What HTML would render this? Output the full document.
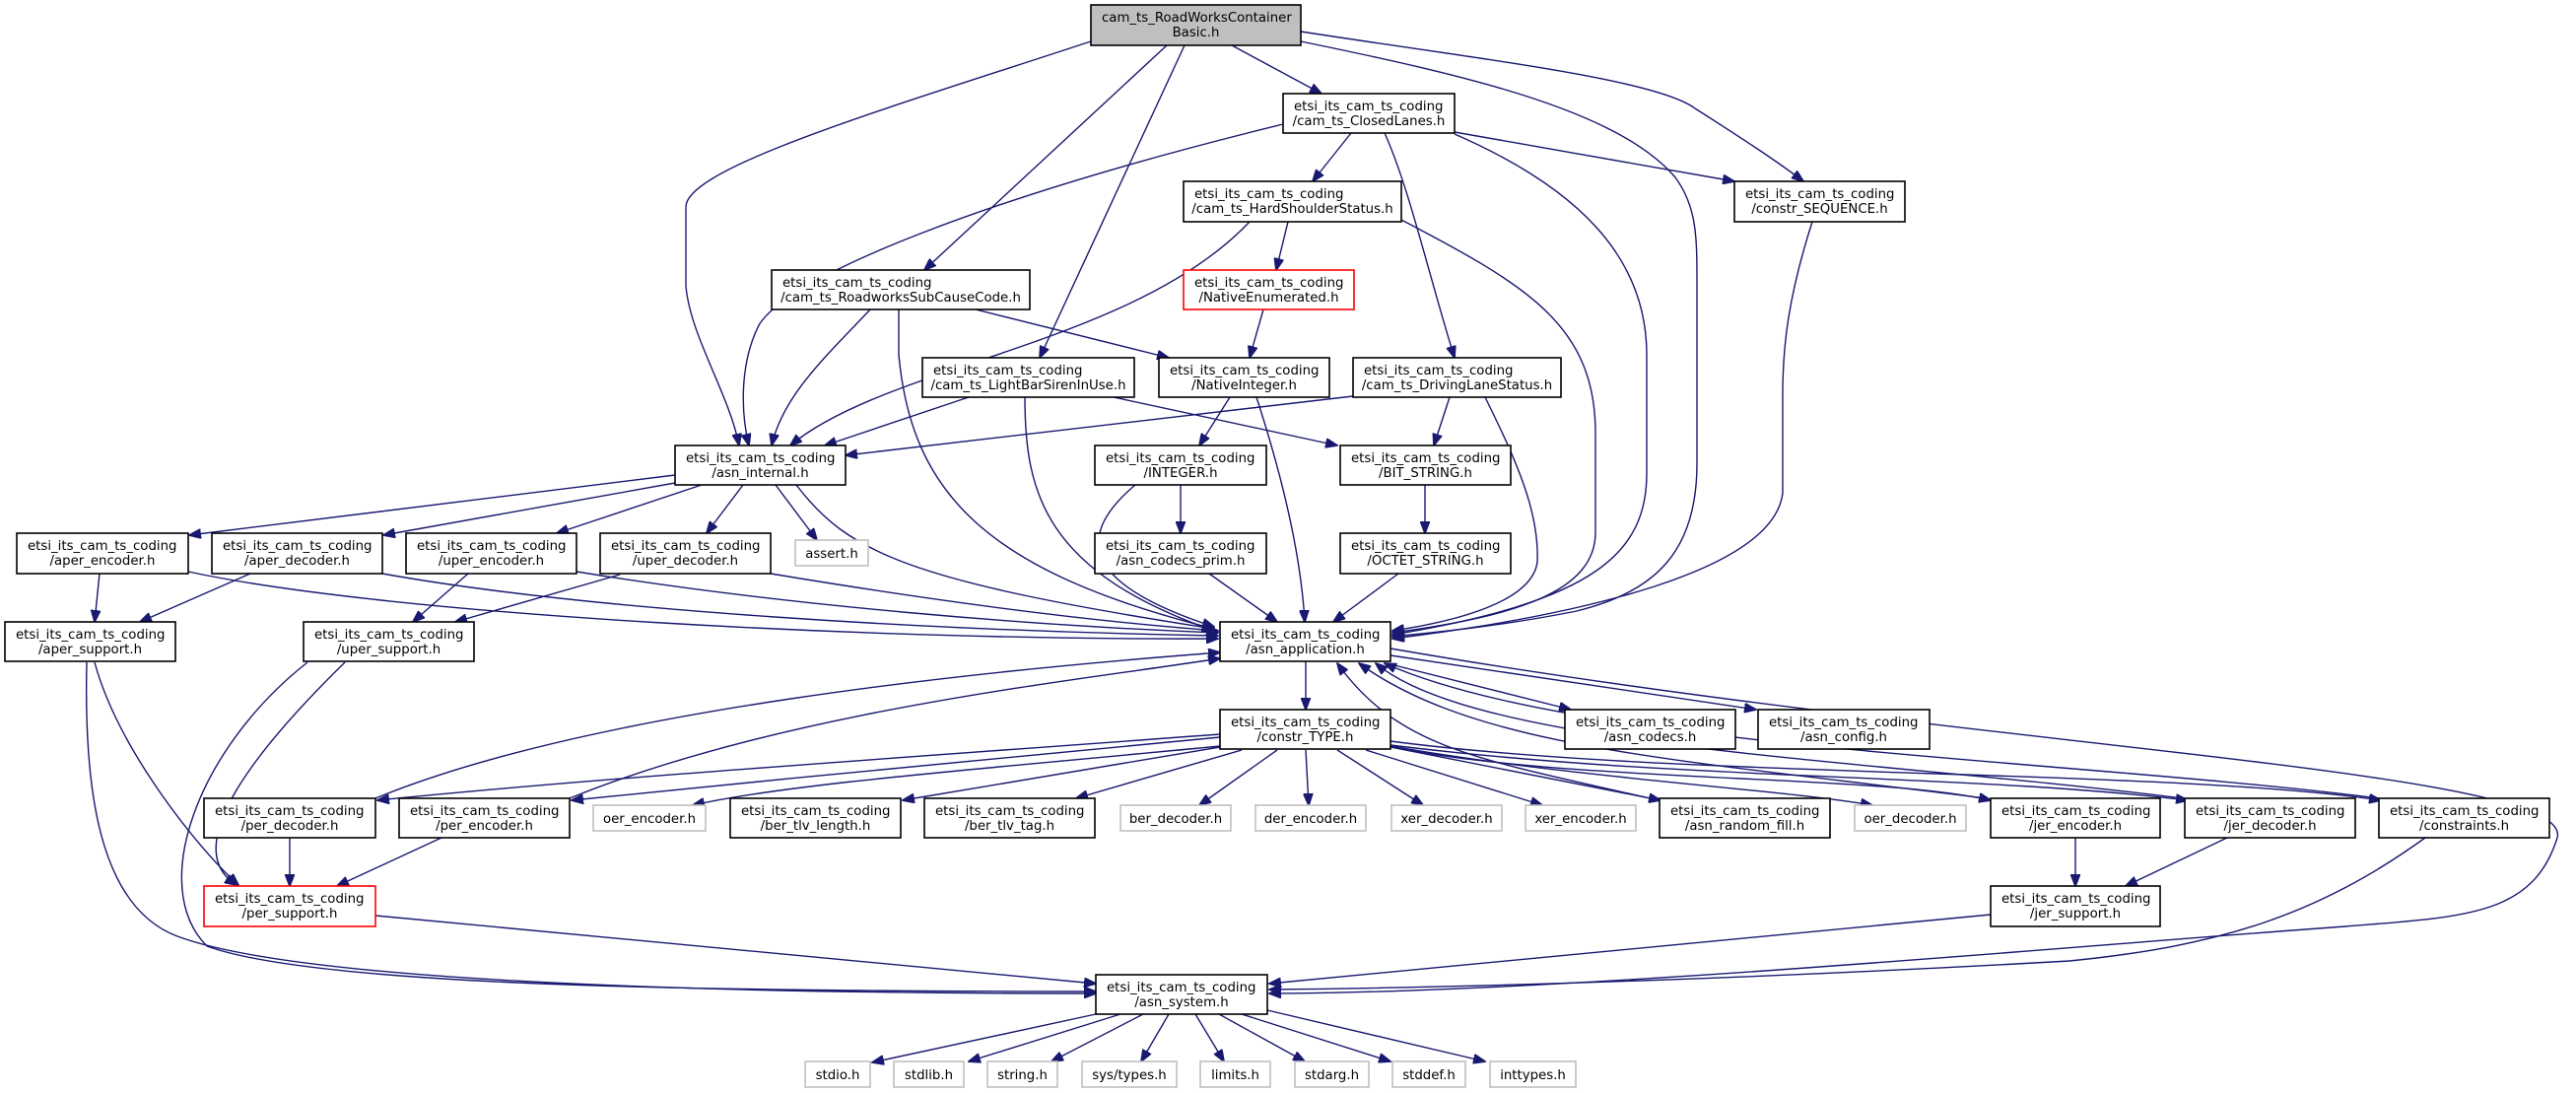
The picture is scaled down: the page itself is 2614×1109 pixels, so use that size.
<!DOCTYPE html>
<html><head><meta charset="utf-8"><style>
html,body{margin:0;padding:0;background:#fff;}
svg{display:block;}
text{font-family:"DejaVu Sans","Liberation Sans",sans-serif;font-size:13.3px;fill:#000;}
.n rect{fill:#fff;stroke:#000;stroke-width:1.6;}
.g rect{fill:#fff;stroke:#bfbfbf;stroke-width:1.6;}
.r rect{fill:#fff;stroke:#ff0000;stroke-width:1.6;}
.e path{fill:none;stroke:#191970;stroke-width:1.4;}
</style></head><body>
<svg width="2614" height="1109" viewBox="0 0 2614 1109" xmlns="http://www.w3.org/2000/svg">
<defs>
<marker id="a" markerWidth="13" markerHeight="10" refX="12" refY="5" orient="auto" markerUnits="userSpaceOnUse">
<path d="M0,0 L13,5 L0,10 z" fill="#191970" stroke="#191970" stroke-width="1"/>
</marker>
</defs>
<g class="e" marker-end="url(#a)">
<!-- root -->
<path d="M1107,42 C900,110 696,170 696,210 L696,290 C700,340 740,400 750,452" marker-end="url(#a)"/>
<path d="M1184,46 L938,274" marker-end="url(#a)"/>
<path d="M1202,46 L1055,363" marker-end="url(#a)"/>
<path d="M1250,46 L1341,95" marker-end="url(#a)"/>
<path d="M1320,42 C1480,75 1640,110 1700,180 C1722,210 1722,240 1722,290 L1722,470 C1722,560 1680,600 1600,620 C1520,636 1450,642 1413,646" marker-end="url(#a)"/>
<path d="M1320,32 C1500,60 1680,80 1720,110 C1775,145 1805,165 1830,184" marker-end="url(#a)"/>
<!-- ClosedLanes -->
<path d="M1371,135 L1332,184" marker-end="url(#a)"/>
<path d="M1405,135 C1430,190 1450,280 1476,363" marker-end="url(#a)"/>
<path d="M1476,134 L1760,184" marker-end="url(#a)"/>
<path d="M1476,136 C1600,190 1671,260 1671,360 L1671,480 C1671,560 1620,610 1413,644" marker-end="url(#a)"/>
<path d="M1302,126 C1000,200 800,280 770,330 C750,370 752,420 760,452" marker-end="url(#a)"/>
<!-- HardShoulder -->
<path d="M1307,225 L1295,274" marker-end="url(#a)"/>
<path d="M1268,225 C1150,350 900,370 802,452" marker-end="url(#a)"/>
<path d="M1422,223 C1550,290 1619,330 1619,440 L1619,540 C1619,600 1540,625 1413,642" marker-end="url(#a)"/>
<!-- constr_SEQUENCE -->
<path d="M1839,225 C1815,300 1809,350 1809,400 L1809,500 C1800,580 1600,625 1413,648" marker-end="url(#a)"/>
<!-- RWSub -->
<path d="M883,314 C840,360 795,400 783,452" marker-end="url(#a)"/>
<path d="M990,314 L1186,363" marker-end="url(#a)"/>
<path d="M912,314 L912,360 C925,500 1000,580 1232,638" marker-end="url(#a)"/>
<!-- LightBar -->
<path d="M983,403 L837,452" marker-end="url(#a)"/>
<path d="M1130,403 L1357,452" marker-end="url(#a)"/>
<path d="M1040,403 C1040,500 1060,580 1232,640" marker-end="url(#a)"/>
<!-- NativeEnum / NativeInteger / INTEGER -->
<path d="M1282,314 L1268,363" marker-end="url(#a)"/>
<path d="M1248,403 L1217,452" marker-end="url(#a)"/>
<path d="M1275,403 C1300,480 1320,560 1324,631" marker-end="url(#a)"/>
<path d="M1198,492 L1198,541" marker-end="url(#a)"/>
<path d="M1152,492 C1095,540 1090,590 1232,636" marker-end="url(#a)"/>
<path d="M1227,582 L1296,631" marker-end="url(#a)"/>
<!-- DrivingLane -->
<path d="M1373,402 L858,462" marker-end="url(#a)"/>
<path d="M1471,403 L1455,452" marker-end="url(#a)"/>
<path d="M1507,403 C1540,470 1562,520 1560,570 C1555,610 1480,630 1413,640" marker-end="url(#a)"/>
<path d="M1446,492 L1446,541" marker-end="url(#a)"/>
<path d="M1419,582 L1353,631" marker-end="url(#a)"/>
<!-- asn_internal -->
<path d="M685,482 L192,543" marker-end="url(#a)"/>
<path d="M685,490 L389,543" marker-end="url(#a)"/>
<path d="M712,492 L565,541" marker-end="url(#a)"/>
<path d="M754,492 L717,541" marker-end="url(#a)"/>
<path d="M787,492 L829,548" marker-end="url(#a)"/>
<path d="M808,492 C860,560 920,590 1232,638" marker-end="url(#a)"/>
<!-- aper/uper -->
<path d="M101,582 L96,631" marker-end="url(#a)"/>
<path d="M191,580 C400,625 900,650 1236,648" marker-end="url(#a)"/>
<path d="M254,582 L142,631" marker-end="url(#a)"/>
<path d="M388,582 C600,620 950,640 1236,645" marker-end="url(#a)"/>
<path d="M475,582 L419,631" marker-end="url(#a)"/>
<path d="M585,580 C800,615 1050,635 1236,642" marker-end="url(#a)"/>
<path d="M629,583 L462,631" marker-end="url(#a)"/>
<path d="M782,582 C950,610 1100,630 1236,640" marker-end="url(#a)"/>
<!-- supports -->
<path d="M96,672 C120,760 200,860 242,898" marker-end="url(#a)"/>
<path d="M88,672 C85,800 100,920 180,950 C300,995 700,1008 1112,1008" marker-end="url(#a)"/>
<path d="M350,672 C260,760 180,860 240,898" marker-end="url(#a)"/>
<path d="M312,672 C200,760 150,900 210,960 C320,1000 700,1006 1112,1006" marker-end="url(#a)"/>
<path d="M294,850 L294,899" marker-end="url(#a)"/>
<path d="M448,850 L342,899" marker-end="url(#a)"/>
<path d="M381,929 L1112,998" marker-end="url(#a)"/>
<path d="M381,810 C600,720 1000,680 1238,662" marker-end="url(#a)"/>
<path d="M578,810 C800,720 1100,690 1238,668" marker-end="url(#a)"/>
<!-- asn_application out -->
<path d="M1325,671 L1325,720" marker-end="url(#a)"/>
<path d="M1411,674 L1594,720" marker-end="url(#a)"/>
<path d="M1411,665 L1782,720" marker-end="url(#a)"/>
<path d="M1411,658 C2000,760 2614,780 2595,850 C2570,930 2500,930 2380,940 C2100,960 1600,1007 1288,1008" marker-end="url(#a)"/>
<!-- constr_TYPE out -->
<path d="M1238,745 C900,770 600,790 383,812" marker-end="url(#a)"/>
<path d="M1238,748 C1000,770 800,790 580,812" marker-end="url(#a)"/>
<path d="M1238,757 C1000,780 800,795 703,817" marker-end="url(#a)"/>
<path d="M1238,758 L916,812" marker-end="url(#a)"/>
<path d="M1260,761 L1092,810" marker-end="url(#a)"/>
<path d="M1296,761 L1217,817" marker-end="url(#a)"/>
<path d="M1325,761 L1328,817" marker-end="url(#a)"/>
<path d="M1357,761 L1444,817" marker-end="url(#a)"/>
<path d="M1386,761 L1565,817" marker-end="url(#a)"/>
<path d="M1411,758 L1685,812" marker-end="url(#a)"/>
<path d="M1411,757 C1600,790 1800,800 1900,817" marker-end="url(#a)"/>
<path d="M1411,758 C1600,795 1900,785 2020,812" marker-end="url(#a)"/>
<path d="M1411,756 C1700,792 2000,785 2220,812" marker-end="url(#a)"/>
<path d="M1411,752 C1700,790 2200,780 2416,812" marker-end="url(#a)"/>
<!-- back to asn_application -->
<path d="M1674,810 C1500,770 1420,760 1357,673" marker-end="url(#a)"/>
<path d="M2015,810 C1700,770 1500,760 1379,673" marker-end="url(#a)"/>
<path d="M2215,810 C1900,770 1500,760 1396,673" marker-end="url(#a)"/>
<path d="M2414,810 C2100,770 1600,760 1405,673" marker-end="url(#a)"/>
<!-- jer -->
<path d="M2106,850 L2106,899" marker-end="url(#a)"/>
<path d="M2260,850 L2157,899" marker-end="url(#a)"/>
<path d="M2020,928 L1288,998" marker-end="url(#a)"/>
<path d="M2461,850 C2350,930 2250,960 2100,975 C1800,992 1500,1002 1288,1004" marker-end="url(#a)"/>
<!-- asn_system out -->
<path d="M1112,1029 L885,1078" marker-end="url(#a)"/>
<path d="M1137,1029 L983,1077" marker-end="url(#a)"/>
<path d="M1160,1029 L1067,1077" marker-end="url(#a)"/>
<path d="M1186,1029 L1158,1077" marker-end="url(#a)"/>
<path d="M1213,1029 L1242,1077" marker-end="url(#a)"/>
<path d="M1237,1029 L1324,1077" marker-end="url(#a)"/>
<path d="M1260,1029 L1411,1077" marker-end="url(#a)"/>
<path d="M1286,1025 L1507,1077" marker-end="url(#a)"/>
</g>

<!-- nodes -->
<g class="n"><rect x="1107" y="5" width="213" height="41" style="fill:#bfbfbf"/><text x="1118" y="22">cam_ts_RoadWorksContainer</text><text x="1213.5" y="37" text-anchor="middle">Basic.h</text></g>
<g class="n"><rect x="1302" y="95" width="174" height="40"/><text x="1313" y="112">etsi_its_cam_ts_coding</text><text x="1389" y="127" text-anchor="middle">/cam_ts_ClosedLanes.h</text></g>
<g class="n"><rect x="1201" y="184" width="221" height="41"/><text x="1212" y="201">etsi_its_cam_ts_coding</text><text x="1311.5" y="216" text-anchor="middle">/cam_ts_HardShoulderStatus.h</text></g>
<g class="n"><rect x="1760" y="184" width="173" height="41"/><text x="1771" y="201">etsi_its_cam_ts_coding</text><text x="1846.5" y="216" text-anchor="middle">/constr_SEQUENCE.h</text></g>
<g class="n"><rect x="783" y="274" width="262" height="40"/><text x="794" y="291">etsi_its_cam_ts_coding</text><text x="914" y="306" text-anchor="middle">/cam_ts_RoadworksSubCauseCode.h</text></g>
<g class="r"><rect x="1201" y="274" width="173" height="40"/><text x="1212" y="291">etsi_its_cam_ts_coding</text><text x="1287.5" y="306" text-anchor="middle">/NativeEnumerated.h</text></g>
<g class="n"><rect x="936" y="363" width="215" height="40"/><text x="947" y="380">etsi_its_cam_ts_coding</text><text x="1043.5" y="395" text-anchor="middle">/cam_ts_LightBarSirenInUse.h</text></g>
<g class="n"><rect x="1176" y="363" width="173" height="40"/><text x="1187" y="380">etsi_its_cam_ts_coding</text><text x="1262.5" y="395" text-anchor="middle">/NativeInteger.h</text></g>
<g class="n"><rect x="1373" y="363" width="211" height="40"/><text x="1384" y="380">etsi_its_cam_ts_coding</text><text x="1478.5" y="395" text-anchor="middle">/cam_ts_DrivingLaneStatus.h</text></g>
<g class="n"><rect x="685" y="452" width="173" height="40"/><text x="696" y="469">etsi_its_cam_ts_coding</text><text x="771.5" y="484" text-anchor="middle">/asn_internal.h</text></g>
<g class="n"><rect x="1111" y="452" width="174" height="40"/><text x="1122" y="469">etsi_its_cam_ts_coding</text><text x="1198" y="484" text-anchor="middle">/INTEGER.h</text></g>
<g class="n"><rect x="1360" y="452" width="173" height="40"/><text x="1371" y="469">etsi_its_cam_ts_coding</text><text x="1446.5" y="484" text-anchor="middle">/BIT_STRING.h</text></g>

<g class="n"><rect x="17" y="541" width="174" height="41"/><text x="28" y="558">etsi_its_cam_ts_coding</text><text x="104" y="573" text-anchor="middle">/aper_encoder.h</text></g>
<g class="n"><rect x="215" y="541" width="173" height="41"/><text x="226" y="558">etsi_its_cam_ts_coding</text><text x="301.5" y="573" text-anchor="middle">/aper_decoder.h</text></g>
<g class="n"><rect x="412" y="541" width="173" height="41"/><text x="423" y="558">etsi_its_cam_ts_coding</text><text x="498.5" y="573" text-anchor="middle">/uper_encoder.h</text></g>
<g class="n"><rect x="609" y="541" width="173" height="41"/><text x="620" y="558">etsi_its_cam_ts_coding</text><text x="695.5" y="573" text-anchor="middle">/uper_decoder.h</text></g>
<g class="g"><rect x="807" y="548" width="74" height="26"/><text x="844" y="566" text-anchor="middle">assert.h</text></g>
<g class="n"><rect x="1111" y="541" width="174" height="41"/><text x="1122" y="558">etsi_its_cam_ts_coding</text><text x="1198" y="573" text-anchor="middle">/asn_codecs_prim.h</text></g>
<g class="n"><rect x="1360" y="541" width="173" height="41"/><text x="1371" y="558">etsi_its_cam_ts_coding</text><text x="1446.5" y="573" text-anchor="middle">/OCTET_STRING.h</text></g>

<g class="n"><rect x="5" y="631" width="173" height="40"/><text x="16" y="648">etsi_its_cam_ts_coding</text><text x="91.5" y="663" text-anchor="middle">/aper_support.h</text></g>
<g class="n"><rect x="308" y="631" width="173" height="40"/><text x="319" y="648">etsi_its_cam_ts_coding</text><text x="394.5" y="663" text-anchor="middle">/uper_support.h</text></g>
<g class="n"><rect x="1238" y="631" width="173" height="40"/><text x="1249" y="648">etsi_its_cam_ts_coding</text><text x="1324.5" y="663" text-anchor="middle">/asn_application.h</text></g>

<g class="n"><rect x="1238" y="720" width="173" height="40"/><text x="1249" y="737">etsi_its_cam_ts_coding</text><text x="1324.5" y="752" text-anchor="middle">/constr_TYPE.h</text></g>
<g class="n"><rect x="1588" y="720" width="173" height="40"/><text x="1599" y="737">etsi_its_cam_ts_coding</text><text x="1674.5" y="752" text-anchor="middle">/asn_codecs.h</text></g>
<g class="n"><rect x="1784" y="720" width="174" height="40"/><text x="1795" y="737">etsi_its_cam_ts_coding</text><text x="1871" y="752" text-anchor="middle">/asn_config.h</text></g>

<g class="n"><rect x="207" y="810" width="174" height="40"/><text x="218" y="827">etsi_its_cam_ts_coding</text><text x="294" y="842" text-anchor="middle">/per_decoder.h</text></g>
<g class="n"><rect x="405" y="810" width="173" height="40"/><text x="416" y="827">etsi_its_cam_ts_coding</text><text x="491.5" y="842" text-anchor="middle">/per_encoder.h</text></g>
<g class="g"><rect x="602" y="817" width="114" height="26"/><text x="659" y="835" text-anchor="middle">oer_encoder.h</text></g>
<g class="n"><rect x="741" y="810" width="173" height="40"/><text x="752" y="827">etsi_its_cam_ts_coding</text><text x="827.5" y="842" text-anchor="middle">/ber_tlv_length.h</text></g>
<g class="n"><rect x="938" y="810" width="173" height="40"/><text x="949" y="827">etsi_its_cam_ts_coding</text><text x="1024.5" y="842" text-anchor="middle">/ber_tlv_tag.h</text></g>
<g class="g"><rect x="1137" y="817" width="112" height="26"/><text x="1193" y="835" text-anchor="middle">ber_decoder.h</text></g>
<g class="g"><rect x="1274" y="817" width="112" height="26"/><text x="1330" y="835" text-anchor="middle">der_encoder.h</text></g>
<g class="g"><rect x="1412" y="817" width="112" height="26"/><text x="1468" y="835" text-anchor="middle">xer_decoder.h</text></g>
<g class="g"><rect x="1548" y="817" width="112" height="26"/><text x="1604" y="835" text-anchor="middle">xer_encoder.h</text></g>
<g class="n"><rect x="1684" y="810" width="173" height="40"/><text x="1695" y="827">etsi_its_cam_ts_coding</text><text x="1770.5" y="842" text-anchor="middle">/asn_random_fill.h</text></g>
<g class="g"><rect x="1882" y="817" width="113" height="26"/><text x="1938.5" y="835" text-anchor="middle">oer_decoder.h</text></g>
<g class="n"><rect x="2020" y="810" width="172" height="40"/><text x="2031" y="827">etsi_its_cam_ts_coding</text><text x="2106" y="842" text-anchor="middle">/jer_encoder.h</text></g>
<g class="n"><rect x="2217" y="810" width="173" height="40"/><text x="2228" y="827">etsi_its_cam_ts_coding</text><text x="2303.5" y="842" text-anchor="middle">/jer_decoder.h</text></g>
<g class="n"><rect x="2414" y="810" width="173" height="40"/><text x="2425" y="827">etsi_its_cam_ts_coding</text><text x="2500.5" y="842" text-anchor="middle">/constraints.h</text></g>

<g class="r"><rect x="207" y="899" width="174" height="41"/><text x="218" y="916">etsi_its_cam_ts_coding</text><text x="294" y="931" text-anchor="middle">/per_support.h</text></g>
<g class="n"><rect x="2020" y="899" width="172" height="41"/><text x="2031" y="916">etsi_its_cam_ts_coding</text><text x="2106" y="931" text-anchor="middle">/jer_support.h</text></g>

<g class="n"><rect x="1112" y="989" width="174" height="40"/><text x="1123" y="1006">etsi_its_cam_ts_coding</text><text x="1199" y="1021" text-anchor="middle">/asn_system.h</text></g>

<g class="g"><rect x="817" y="1077" width="66" height="26"/><text x="850" y="1095" text-anchor="middle">stdio.h</text></g>
<g class="g"><rect x="907" y="1077" width="71" height="26"/><text x="942.5" y="1095" text-anchor="middle">stdlib.h</text></g>
<g class="g"><rect x="1002" y="1077" width="71" height="26"/><text x="1037.5" y="1095" text-anchor="middle">string.h</text></g>
<g class="g"><rect x="1098" y="1077" width="96" height="26"/><text x="1146" y="1095" text-anchor="middle">sys/types.h</text></g>
<g class="g"><rect x="1218" y="1077" width="71" height="26"/><text x="1253.5" y="1095" text-anchor="middle">limits.h</text></g>
<g class="g"><rect x="1314" y="1077" width="75" height="26"/><text x="1351.5" y="1095" text-anchor="middle">stdarg.h</text></g>
<g class="g"><rect x="1413" y="1077" width="74" height="26"/><text x="1450" y="1095" text-anchor="middle">stddef.h</text></g>
<g class="g"><rect x="1512" y="1077" width="87" height="26"/><text x="1555.5" y="1095" text-anchor="middle">inttypes.h</text></g>
</svg>
</body></html>
